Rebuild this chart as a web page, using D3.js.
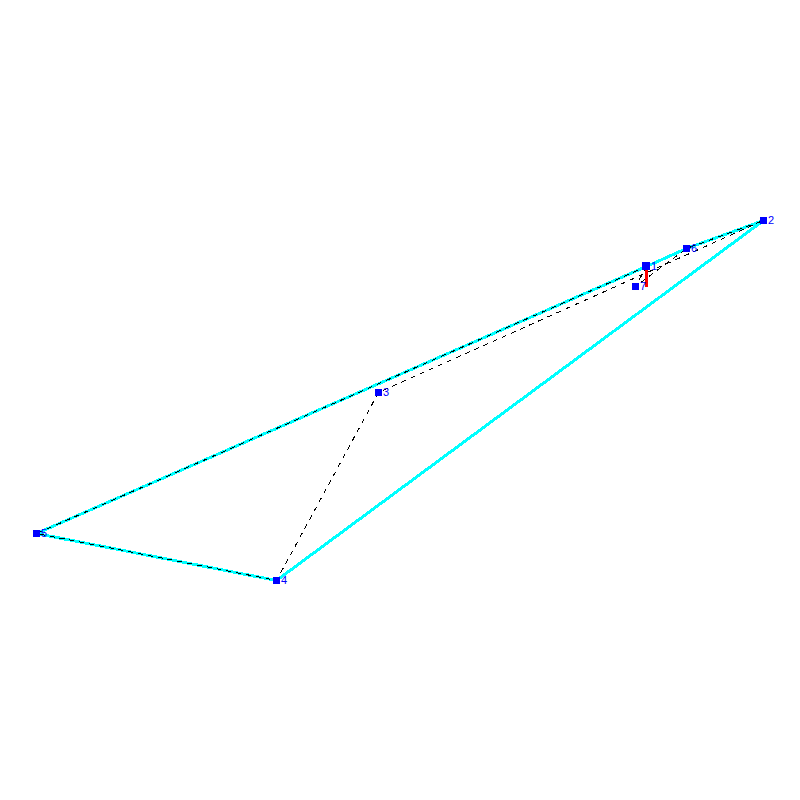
<!DOCTYPE html>
<html>
<head>
<meta charset="utf-8">
<script src="https://cdn.jsdelivr.net/npm/d3@7"></script>
<style>
  html, body { margin: 0; padding: 0; background: #fff; }
  svg { display: block; }
</style>
</head>
<body>
<div id="chart"></div>
<script>
// Node positions
var nodeIds = [1, 2, 3, 4, 5, 6, 7];
var nodeX = [646, 763, 378, 276, 36, 686, 635];
var nodeY = [266, 220, 392, 580, 533, 248, 286];

// Outer hull (cyan) and tour (black dashed), as node ids
var hullPath = [5, 1, 6, 2, 4, 5];
var tourPath = [1, 7, 6, 2, 3, 4, 5, 1];

// Short red segment under node 1
var redX = [646, 646];
var redY = [266, 286];

var width = 800, height = 800;

// half pixel offset so the square markers land on whole pixels
var x = d3.scaleLinear().domain([0, 800]).range([0.5, width + 0.5]);
var y = d3.scaleLinear().domain([0, 800]).range([0.5, height + 0.5]);

var svg = d3.select("#chart").append("svg")
  .attr("width", width)
  .attr("height", height);

var line = d3.line()
  .x(id => x(nodeX[id - 1]))
  .y(id => y(nodeY[id - 1]));

svg.append("path")
  .attr("d", line(hullPath))
  .attr("fill", "none")
  .attr("stroke", "#00ffff")
  .attr("stroke-width", 3)
  .attr("shape-rendering", "crispEdges");

svg.append("path")
  .attr("d", line(tourPath))
  .attr("fill", "none")
  .attr("stroke", "#000")
  .attr("stroke-width", 1)
  .attr("stroke-dasharray", "5,5")
  .attr("shape-rendering", "crispEdges");

svg.append("line")
  .attr("x1", x(redX[0])).attr("y1", y(redY[0]))
  .attr("x2", x(redX[1])).attr("y2", y(redY[1]))
  .attr("stroke", "#ff0000")
  .attr("stroke-width", 3)
  .attr("shape-rendering", "crispEdges");

// Markers, node 1 is drawn one pixel bigger
var markerSize = id => id === 1 ? 8 : 7;

svg.selectAll("rect.node")
  .data(nodeIds)
  .join("rect")
  .attr("class", "node")
  .attr("x", id => Math.round(x(nodeX[id - 1]) - markerSize(id) / 2 - 0.01))
  .attr("y", id => Math.round(y(nodeY[id - 1]) - markerSize(id) / 2 - 0.01))
  .attr("width", markerSize)
  .attr("height", markerSize)
  .attr("fill", "#0000ff");

// Labels
svg.selectAll("text.label")
  .data(nodeIds)
  .join("text")
  .attr("class", "label")
  .attr("x", id => x(nodeX[id - 1]) + 4.5)
  .attr("y", id => y(nodeY[id - 1]) + 3.5)
  .attr("font-family", "'Liberation Sans', sans-serif")
  .attr("font-size", 11)
  .attr("fill", "#0000ff")
  .text(id => id);
</script>
</body>
</html>
